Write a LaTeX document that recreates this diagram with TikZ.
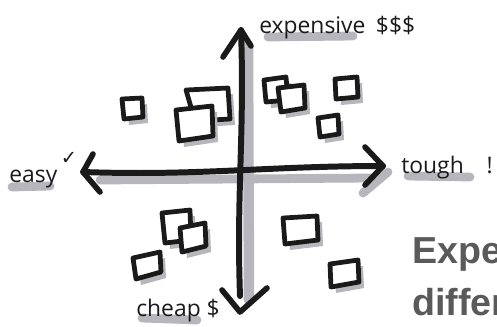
\documentclass[tikz,border=0pt]{standalone}
\usepackage{fontspec}
\setmainfont{Open Sans}
\newfontfamily\symfont{DejaVu Sans}
\newfontfamily\headfont{Liberation Sans}
\usetikzlibrary{calc}

\definecolor{ink}{HTML}{1A1A1A}
\definecolor{marker}{HTML}{B6B6BC}
\definecolor{slidegray}{HTML}{5A5A5A}

% one hand-drawn sticky note: grey smudge first, then the white card on top
\newcommand\sticky[4]{%
  \begin{scope}[shift={(5,6)}]
    \fill[marker] #1 -- #2 -- #3 -- #4 -- cycle;
  \end{scope}
  \filldraw[note] #1 -- #2 -- #3 -- #4 -- cycle;}

\begin{document}
\begin{tikzpicture}[
  x=0.02cm, y=-0.02cm,
  axis/.style   = {draw=ink, line width=3.4pt, line cap=round},
  head/.style   = {draw=ink, line width=3.2pt, line cap=round, line join=round},
  smudge/.style = {draw=marker, line width=5pt, line cap=round},
  note/.style   = {draw=ink, fill=white, line width=2.7pt, line join=round},
  lbl/.style    = {anchor=base west, inner sep=0pt, text=ink,
                   font=\fontsize{13}{15}\selectfont},
  slide/.style  = {anchor=base west, inner sep=0pt, text=slidegray,
                   font=\headfont\bfseries\fontsize{21.4}{26}\selectfont},
]
  \useasboundingbox (0,0) rectangle (497,326);

  \coordinate (top)  at (241,30);
  \coordinate (bot)  at (240,312);
  \coordinate (west) at (83,172);
  \coordinate (east) at (383,166);

  % marker shadows under the axes and the labels
  \draw[smudge, line width=6pt] (248,45) -- (249,300);
  \draw[smudge] (100,180) -- (372,178);
  \draw[smudge] (363,193) -- (388,172);
  \draw[smudge] (268,37) -- (353,36);
  \draw[smudge] (12,187) -- (50,186);
  \draw[smudge] (408,176) -- (470,177);
  \draw[smudge] (142,318) -- (197,320);

  % the two axes
  \draw[axis] (top) to[out=-88,in=92] ($(bot)+(0,-16)$);
  \draw[axis] (west) to[out=-2,in=180] (east);
  \draw[head] (223,57) -- (top) -- (251,46);
  \draw[head] (222,290) -- (bot) -- (267,288);
  \draw[head] (93,154) -- (west) -- (100,192);
  \draw[head] (365,147) -- (east) -- (365,185);

  \node[lbl] (expensive) at (259,33) {expensive\hspace{6pt}\$\$\$};
  \node[lbl] (easy)      at (9,182) {easy\hspace{2pt}\raisebox{1.4ex}{\symfont\fontsize{11}{11}\selectfont ✓}};
  \node[lbl] (tough)     at (401,173) {tough\hspace{13pt}!};
  \node[lbl] (cheap)     at (136,316) {cheap \$};

  % notes, upper left
  \sticky{(122,99)}{(142,98)}{(143,117)}{(124,119)}
  \sticky{(186,90)}{(228,88)}{(230,119)}{(195,121)}
  \sticky{(176,110)}{(212,106)}{(213,136)}{(179,141)}
  % upper right
  \sticky{(264,80)}{(286,77)}{(288,100)}{(266,102)}
  \sticky{(278,88)}{(304,85)}{(305,108)}{(281,112)}
  \sticky{(335,79)}{(357,77)}{(358,97)}{(336,99)}
  \sticky{(318,118)}{(338,115)}{(339,134)}{(320,137)}
  % lower left
  \sticky{(162,213)}{(190,210)}{(191,240)}{(165,243)}
  \sticky{(180,228)}{(205,223)}{(206,246)}{(182,252)}
  \sticky{(133,258)}{(160,252)}{(161,272)}{(136,279)}
  % lower right
  \sticky{(283,218)}{(317,216)}{(318,240)}{(285,244)}
  \sticky{(330,264)}{(358,260)}{(359,282)}{(331,287)}

  \node[slide] (title1) at (412,263) {Expe};
  \node[slide] (title2) at (412,315) {differ};
\end{tikzpicture}
\end{document}
